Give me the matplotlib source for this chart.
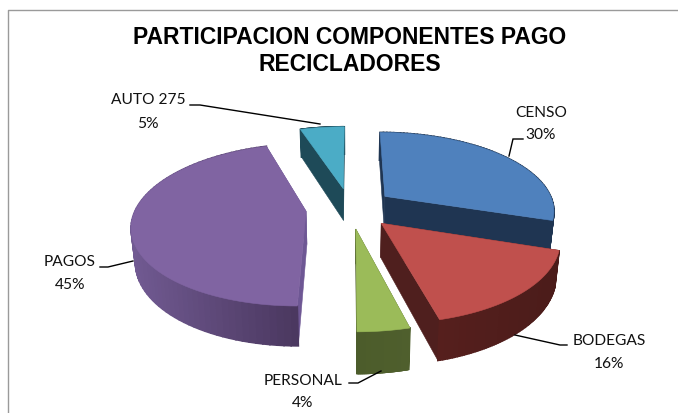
import numpy as np
import matplotlib
matplotlib.use('Agg')
import matplotlib.pyplot as plt
from matplotlib.colors import to_rgb
from matplotlib.patches import Polygon

TITLE = 'PARTICIPACION COMPONENTES PAGO\nRECICLADORES'
names = ['CENSO', 'BODEGAS', 'PERSONAL', 'PAGOS', 'AUTO 275']
percent = [30, 16, 4, 45, 5]

# top colour, side colour at left, side colour at right, cut face colour
top_colors = ['#4f81bd', '#c0504d', '#9bbb59', '#8064a2', '#4bacc6']
side_left = ['#1f3552', '#561f1d', '#4c5c2b', '#715a92', '#1e4a58']
side_right = ['#1f3552', '#4b1c1a', '#4f5f2d', '#4b3860', '#1e4a58']
cut_colors = ['#1f3552', '#4f1f1e', '#4c5c2b', '#6e5794', '#1e4a58']

# leader line per slice and where the label goes
leaders = [[(523, 140), (513, 140), (509, 157)],
           [(567, 346), (560, 346), (515, 336)],
           [(349, 384), (358, 384), (381, 372)],
           [(100, 268), (108, 268), (133, 262)],
           [(190, 106), (200, 106), (320, 125)]]
label_pos = [(541, 113, 135), (609, 341, 364), (303, 381, 403),
             (70, 262, 285), (148, 100, 124)]

# pie projection settings, in pixels
CX, CY = 350, 209
A, B = 170, 78
K = 0.165
EXPLODE = 0.26
DEPTH = 33
BASE_SCALE = 0.98
draw_order = [4, 0, 3, 2, 1]


def top_xy(u, v):
    w = 1 + K * v
    return np.column_stack([CX + A * u / w, CY - B * v / w])


def base_xy(u, v):
    w = 1 + K * v
    return np.column_stack([CX + BASE_SCALE * A * u / w, CY - B * v / w + DEPTH / w])


fig = plt.figure(figsize=(6.78, 4.14), dpi=100)
ax = fig.add_axes([0, 0, 1, 1])
ax.set_xlim(0, 678)
ax.set_ylim(414, 0)
ax.axis('off')

# chart frame
ax.plot([8, 8, 678], [414, 10.5, 10.5], color='#9a9a9a', lw=1.0)

fractions = np.array(percent) / np.sum(percent)
edges = np.concatenate([[0], np.cumsum(fractions)]) * 2 * np.pi

for i in draw_order:
    th = np.linspace(edges[i], edges[i + 1], 80)
    mid = (edges[i] + edges[i + 1]) / 2
    u0, v0 = EXPLODE * np.sin(mid), EXPLODE * np.cos(mid)
    u, v = u0 + np.sin(th), v0 + np.cos(th)

    # the two cut faces
    for uu, vv in ((u[0], v[0]), (u[-1], v[-1])):
        us = np.array([u0, uu])
        vs = np.array([v0, vv])
        pts = np.vstack([top_xy(us, vs), base_xy(us, vs)[::-1]])
        ax.add_patch(Polygon(pts, closed=True, fc=cut_colors[i], ec=cut_colors[i], lw=0.4))

    # outer wall, shaded from left to right
    t_pts = top_xy(u, v)
    b_pts = base_xy(u, v)
    c0, c1 = np.array(to_rgb(side_left[i])), np.array(to_rgb(side_right[i]))
    lo, hi = t_pts[:, 0].min(), t_pts[:, 0].max()
    for j in range(len(th) - 1):
        t = (t_pts[j, 0] - lo) / (hi - lo)
        col = c0 + (c1 - c0) * t
        quad = [t_pts[j], t_pts[j + 1], b_pts[j + 1], b_pts[j]]
        ax.add_patch(Polygon(quad, closed=True, fc=col, ec=col, lw=1.2))

    # top face
    outline = np.vstack([top_xy(np.array([u0]), np.array([v0])), t_pts])
    ax.add_patch(Polygon(outline, closed=True, fc=top_colors[i], ec=top_colors[i], lw=0.4))

ax.text(350, 51, TITLE, ha='center', va='center', fontsize=16.5, fontweight='bold',
        family='Liberation Sans', linespacing=1.22, color='black')

for i in range(len(names)):
    xs, ys = zip(*leaders[i])
    ax.plot(xs, ys, color='black', lw=1.0, solid_joinstyle='miter')
    x, y1, y2 = label_pos[i]
    ax.text(x, y1, names[i], ha='center', va='center', fontsize=11.2, family='Lato', color='#111111')
    ax.text(x, y2, '%d%%' % percent[i], ha='center', va='center', fontsize=11.2, family='Lato', color='#111111')

fig.savefig('out.png', dpi=100)
